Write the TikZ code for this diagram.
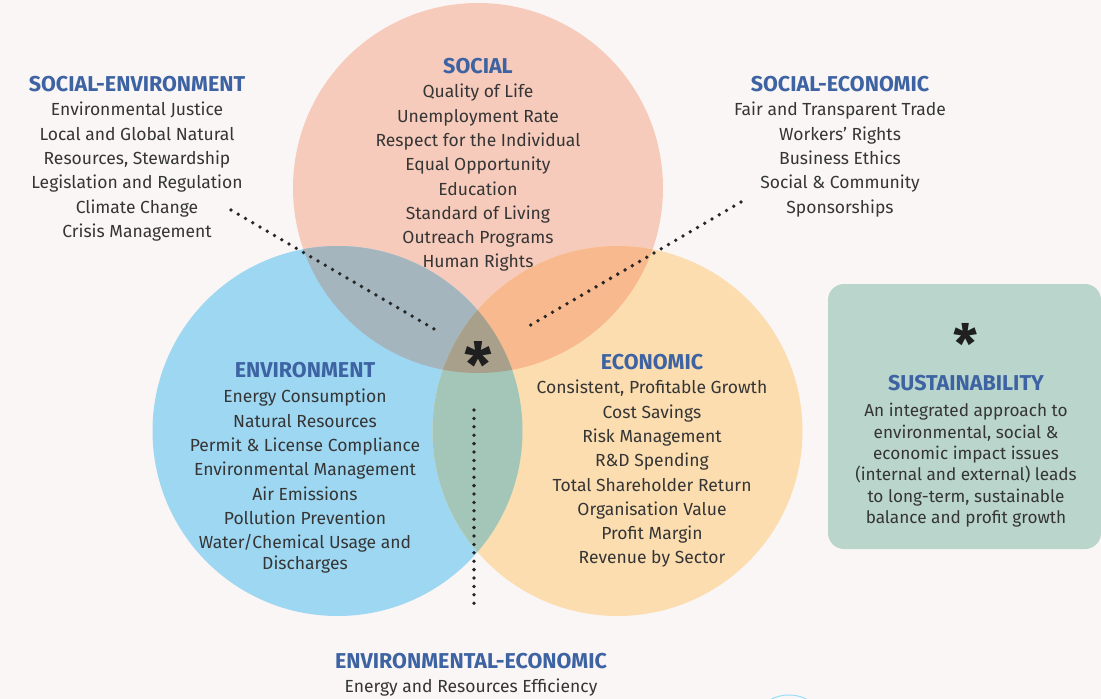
\documentclass[tikz,border=0pt]{standalone}
\usepackage{fontspec}
\setmainfont{Fira Sans}
\definecolor{bgc}{HTML}{FAF6F6}
\definecolor{socC}{HTML}{F7CBBB}
\definecolor{envC}{HTML}{9ED7F2}
\definecolor{ecoC}{HTML}{FBDDB0}
\definecolor{seC}{HTML}{A4B5BD}
\definecolor{scC}{HTML}{F8B98E}
\definecolor{ecC}{HTML}{A3C6B8}
\definecolor{allC}{HTML}{A9A08B}
\definecolor{boxC}{HTML}{BAD5CC}
\definecolor{ttlC}{HTML}{3D63A2}
\definecolor{txtC}{HTML}{353535}
\begin{document}
\begin{tikzpicture}[x=1pt,y=-1pt,
  ttl/.style={font=\fontsize{21.5}{24}\selectfont\bfseries, text=ttlC, inner sep=0pt},
  body/.style={font=\fontsize{17.5}{24.3}\selectfont, text=txtC, align=center, inner sep=0pt, anchor=north},
  sbody/.style={font=\fontsize{17.2}{21.4}\selectfont, text=txtC, align=center, inner sep=0pt, anchor=north},
  dots/.style={line width=3.8pt, line cap=round, dash pattern=on 0pt off 8.4pt, draw=black!85}]
\useasboundingbox (0,0) rectangle (1101,699);
\fill[bgc] (0,0) rectangle (1101,699);
% decorative faint arcs bottom right
\draw[cyan!40, line width=1pt] (789,735) circle[radius=40pt];
\draw[cyan!25, line width=0.8pt] (789,735) circle[radius=34pt];
% circles
\coordinate (cS) at (478,188);
\coordinate (cE) at (337.5,431);
\coordinate (cC) at (617.5,431);
\fill[socC] (cS) circle[radius=185pt];
\fill[envC] (cE) circle[radius=185pt];
\fill[ecoC] (cC) circle[radius=185pt];
\begin{scope}\clip (cS) circle[radius=185pt]; \fill[seC] (cE) circle[radius=185pt];\end{scope}
\begin{scope}\clip (cS) circle[radius=185pt]; \fill[scC] (cC) circle[radius=185pt];\end{scope}
\begin{scope}\clip (cE) circle[radius=185pt]; \fill[ecC] (cC) circle[radius=185pt];\end{scope}
\begin{scope}\clip (cS) circle[radius=185pt]; \clip (cE) circle[radius=185pt]; \fill[allC] (cC) circle[radius=185pt];\end{scope}
% sustainability box
\fill[boxC, rounded corners=16pt] (828,284) rectangle (1101,549);
% asterisks
\node[font=\fontsize{62}{62}\selectfont\bfseries, text=black!88, inner sep=0pt] (star) at (478,364) {*};
\node[font=\fontsize{54}{54}\selectfont\bfseries, text=black!88, inner sep=0pt] (star2) at (966,343) {*};
% titles
\node[ttl] (tS) at (478,66) {SOCIAL};
\node[ttl] (tSE) at (137,84) {SOCIAL-ENVIRONMENT};
\node[ttl] (tSC) at (840,84) {SOCIAL-ECONOMIC};
\node[ttl] (tE) at (305,370) {ENVIRONMENT};
\node[ttl] (tC) at (652,362) {ECONOMIC};
\node[ttl] (tSu) at (966,383) {SUSTAINABILITY};
\node[ttl] (tEC) at (471,661) {ENVIRONMENTAL-ECONOMIC};
% bodies
\node[body] (bS) at (478,84) {Quality of Life\\Unemployment Rate\\Respect for the Individual\\Equal Opportunity\\Education\\Standard of Living\\Outreach Programs\\Human Rights};
\node[body] (bSE) at (137,102) {Environmental Justice\\Local and Global Natural\\Resources, Stewardship\\Legislation and Regulation\\Climate Change\\Crisis Management};
\node[body] (bSC) at (840,102) {Fair and Transparent Trade\\Workers' Rights\\Business Ethics\\Social \& Community\\Sponsorships};
\node[body] (bE) at (305,389) {Energy Consumption\\Natural Resources\\Permit \& License Compliance\\Environmental Management\\Air Emissions\\Pollution Prevention\\Water/Chemical Usage and\\[-3pt]Discharges};
\node[body] (bC) at (652,380) {Consistent, Profitable Growth\\Cost Savings\\Risk Management\\R\&D Spending\\Total Shareholder Return\\Organisation Value\\Profit Margin\\Revenue by Sector};
\node[sbody] (bSu) at (966,403) {An integrated approach to\\environmental, social \&\\economic impact issues\\(internal and external) leads\\to long-term, sustainable\\balance and profit growth};
\node[body] (bEC) at (471,679) {Energy and Resources Efficiency};
% dotted connectors
\coordinate (dSE1) at (231,210);
\coordinate (dSE2) at (441,333);
\coordinate (dSC1) at (741,202);
\coordinate (dSC2) at (524,329);
\coordinate (dEC1) at (474,410);
\coordinate (dEC2) at (474,604);
\draw[dots] (dSE1) -- (dSE2);
\draw[dots] (dSC1) -- (dSC2);
\draw[dots] (dEC1) -- (dEC2);
\end{tikzpicture}
\end{document}
